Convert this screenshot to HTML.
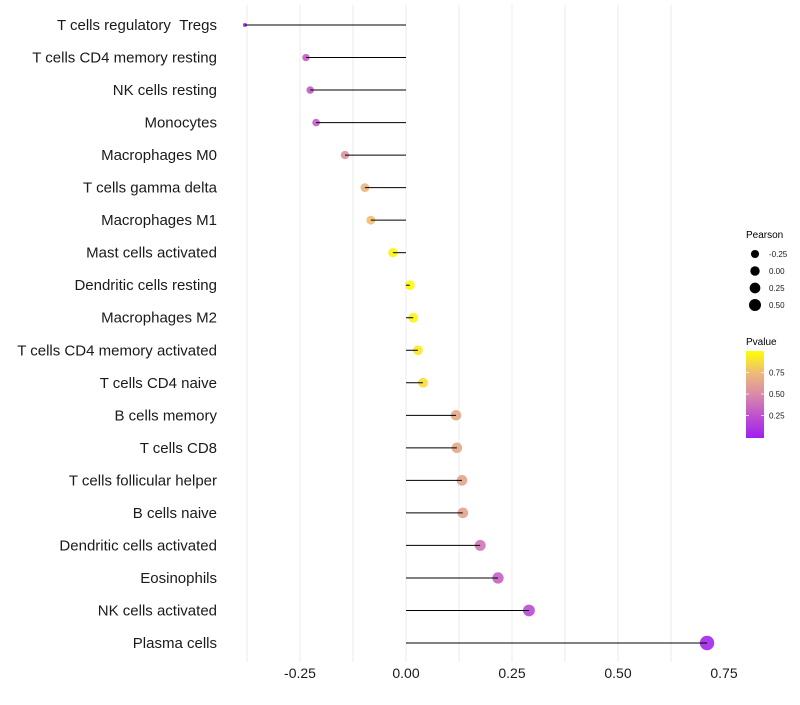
<!DOCTYPE html>
<html><head><meta charset="utf-8"><style>
body{margin:0;background:#fff;font-family:"Liberation Sans",sans-serif;}
svg text{font-family:"Liberation Sans",sans-serif;}
</style></head><body>
<svg id="chart" width="800" height="700" xmlns="http://www.w3.org/2000/svg">
<g id="grid"></g>
<g id="marks"></g>
<g id="ylabels"></g>
<g id="xlabels"></g>
<g>
<text x="746" y="238" font-size="10" fill="#000">Pearson</text>
<g id="sizeLeg"></g>
</g>
<g>
<text x="746" y="345" font-size="10" fill="#000">Pvalue</text>
<defs><linearGradient id="pg" x1="0" y1="1" x2="0" y2="0">
<stop offset="0" stop-color="#a020f0"/><stop offset="0.25" stop-color="#bd50cf"/><stop offset="0.5" stop-color="#d98aa8"/><stop offset="0.75" stop-color="#eebb78"/><stop offset="1" stop-color="#ffff00"/>
</linearGradient></defs>
<rect x="746" y="351" width="18" height="87" fill="url(#pg)"/>
<g id="cbTicks"></g>
</g>
</svg>
<script>
const categories=["T cells regulatory \u00a0Tregs","T cells CD4 memory resting","NK cells resting","Monocytes","Macrophages M0","T cells gamma delta","Macrophages M1","Mast cells activated","Dendritic cells resting","Macrophages M2","T cells CD4 memory activated","T cells CD4 naive","B cells memory","T cells CD8","T cells follicular helper","B cells naive","Dendritic cells activated","Eosinophils","NK cells activated","Plasma cells"];
const pearson=[-0.380,-0.236,-0.226,-0.212,-0.144,-0.097,-0.083,-0.031,0.009,0.017,0.028,0.040,0.118,0.120,0.132,0.134,0.175,0.217,0.290,0.710];
const pvalue=[0.03,0.3,0.3,0.32,0.55,0.72,0.76,0.96,0.98,0.96,0.92,0.88,0.66,0.66,0.62,0.62,0.42,0.32,0.22,0.03];
const xTicks=[-0.25,0,0.25,0.5,0.75];
const xTickLabels=["-0.25","0.00","0.25","0.50","0.75"];
const sizeLegVals=[-0.25,0,0.25,0.5];
const sizeLegLabels=["-0.25","0.00","0.25","0.50"];
const cbVals=[0.25,0.5,0.75];
const cbLabels=["0.25","0.50","0.75"];

const NS="http://www.w3.org/2000/svg";
const X=v=>406+v*424;
const Y=i=>25+i*(618/19);
const R=v=>{const a=23.2+40.4*v;return a<9?2:Math.sqrt(a);};
const RL=v=>4.7+2.6*v;
const stops=[[0,[160,32,240]],[0.25,[189,80,207]],[0.5,[217,138,168]],[0.75,[238,187,120]],[1,[255,255,0]]];
function col(p){for(let i=1;i<stops.length;i++){if(p<=stops[i][0]){const a=stops[i-1],b=stops[i],t=(p-a[0])/(b[0]-a[0]);return "rgb("+a[1].map((c,k)=>Math.round(c+(b[1][k]-c)*t)).join(",")+")";}}return "rgb(255,255,0)";}
function mk(tag,attrs,parent){const e=document.createElementNS(NS,tag);for(const k in attrs)e.setAttribute(k,attrs[k]);parent.appendChild(e);return e;}
const grid=document.getElementById('grid');
for(let v=-0.375;v<=0.626;v+=0.125){
 const l=mk('line',{x1:X(v),x2:X(v),y1:5,y2:662,stroke:'#ebebeb','stroke-width':1},grid);
 
 
}
const marks=document.getElementById('marks'),yl=document.getElementById('ylabels'),xl=document.getElementById('xlabels');
categories.forEach((c,i)=>{
 const y=Y(i);
 const d=mk('circle',{cx:X(pearson[i]),cy:y,r:R(pearson[i]),fill:col(pvalue[i]),'fill-opacity':0.9},marks);
 
 
 const s=mk('line',{x1:X(0),x2:X(pearson[i]),y1:y,y2:y,stroke:'#000','stroke-width':1},marks);
 
 
 const t=mk('text',{x:217,y:y+5,'text-anchor':'end','font-size':15,fill:'#1a1a1a'},yl);
 t.textContent=c;
 
 
});
xTicks.forEach((v,i)=>{
 const t=mk('text',{x:X(v),y:678,'text-anchor':'middle','font-size':14,fill:'#1a1a1a'},xl);
 t.textContent=xTickLabels[i];
 
 
});
const sl=document.getElementById('sizeLeg');
sizeLegVals.forEach((v,i)=>{
 const y=254+i*17;
 const c=mk('circle',{cx:755,cy:y,r:RL(v),fill:'#000'},sl);
 
 
 const t=mk('text',{x:769,y:y+3,'font-size':8,fill:'#1a1a1a'},sl);
 t.textContent=sizeLegLabels[i];
 
 
});
const cb=document.getElementById('cbTicks');
cbVals.forEach((v,i)=>{
 const y=437-v*86;
 mk('line',{x1:746,x2:749,y1:y,y2:y,stroke:'#fff','stroke-width':0.7},cb);
 mk('line',{x1:761,x2:764,y1:y,y2:y,stroke:'#fff','stroke-width':0.7},cb);
 const t=mk('text',{x:769,y:y+3,'font-size':8,fill:'#1a1a1a'},cb);
 t.textContent=cbLabels[i];
 
 
});
</script>
</body></html>
